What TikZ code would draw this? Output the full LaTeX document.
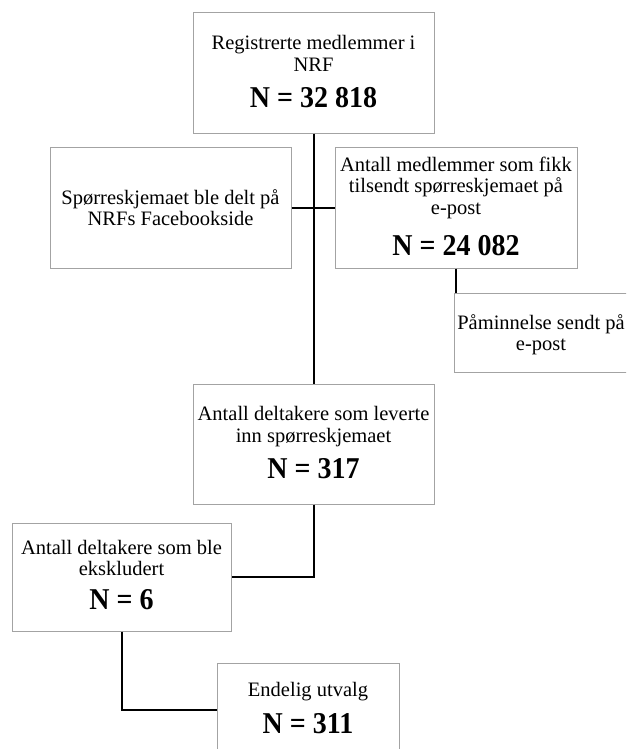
\documentclass[tikz,border=0pt]{standalone}
\usepackage{fontspec}
\setmainfont{Liberation Serif}
\definecolor{boxgray}{HTML}{A3A3A3}
\newcommand{\tallbold}[1]{\scalebox{1}[1.08]{#1}}
\tikzset{
  flowbox/.style={draw=boxgray, line width=1pt, rectangle, inner sep=0pt},
  txt/.style={anchor=base, inner sep=0pt, font=\fontsize{20.5}{22}\selectfont},
  bigtxt/.style={anchor=base, inner sep=0pt, font=\fontsize{28}{30}\selectfont\bfseries},
  conn/.style={draw=black, line width=2pt}
}
\begin{document}
\begin{tikzpicture}[x=1pt,y=-1pt]
\fill[white] (0,0) rectangle (626,749);
\useasboundingbox (0,0) rectangle (626,749);
\clip (0,0) rectangle (626,749);
% boxes
\node[flowbox, minimum width=241pt, minimum height=120pt] (top) at (313.5,73) {};
\node[flowbox, minimum width=241pt, minimum height=121pt] (left) at (170.5,207.5) {};
\node[flowbox, minimum width=242pt, minimum height=121pt] (right) at (456,207.5) {};
\node[flowbox, minimum width=174pt, minimum height=79pt] (pam) at (541,332.5) {};
\node[flowbox, minimum width=241pt, minimum height=120pt] (mid) at (313.5,444) {};
\node[flowbox, minimum width=219pt, minimum height=108pt] (eks) at (121.5,577) {};
\node[flowbox, minimum width=182pt, minimum height=94pt] (fin) at (308,710) {};
% texts
\node[txt] (t1a) at (313.5,50) {Registrerte medlemmer i};
\node[txt] (t1b) at (313.5,72) {NRF};
\node[bigtxt] (t1n) at (313.5,107) {\tallbold{N = 32 818}};
\node[txt] (t2a) at (170.5,204) {Spørreskjemaet ble delt på};
\node[txt] (t2b) at (170.5,225) {NRFs Facebookside};
\node[txt] (t3a) at (456,171) {Antall medlemmer som fikk};
\node[txt] (t3b) at (456,192.5) {tilsendt spørreskjemaet på};
\node[txt] (t3c) at (456,214) {e-post};
\node[bigtxt] (t3n) at (456,255) {\tallbold{N = 24 082}};
\node[txt] (t4a) at (541,329) {Påminnelse sendt på};
\node[txt] (t4b) at (541,350) {e-post};
\node[txt] (t5a) at (313.5,420) {Antall deltakere som leverte};
\node[txt] (t5b) at (313.5,442) {inn spørreskjemaet};
\node[bigtxt] (t5n) at (313.5,478) {\tallbold{N = 317}};
\node[txt] (t6a) at (121.5,554) {Antall deltakere som ble};
\node[txt] (t6b) at (121.5,575) {ekskludert};
\node[bigtxt] (t6n) at (121.5,609) {\tallbold{N = 6}};
\node[txt] (t7a) at (308,696) {Endelig utvalg};
\node[bigtxt] (t7n) at (308,733) {\tallbold{N = 311}};
% connectors
\draw[conn] (top.south) -- (mid.north);
\draw[conn] (left.east) -- (right.west);
\draw[conn] (right.south) -- (right.south |- pam.north);
\draw[conn] (mid.south) |- (eks.east);
\draw[conn] (eks.south) |- (fin.west);
\end{tikzpicture}
\end{document}
